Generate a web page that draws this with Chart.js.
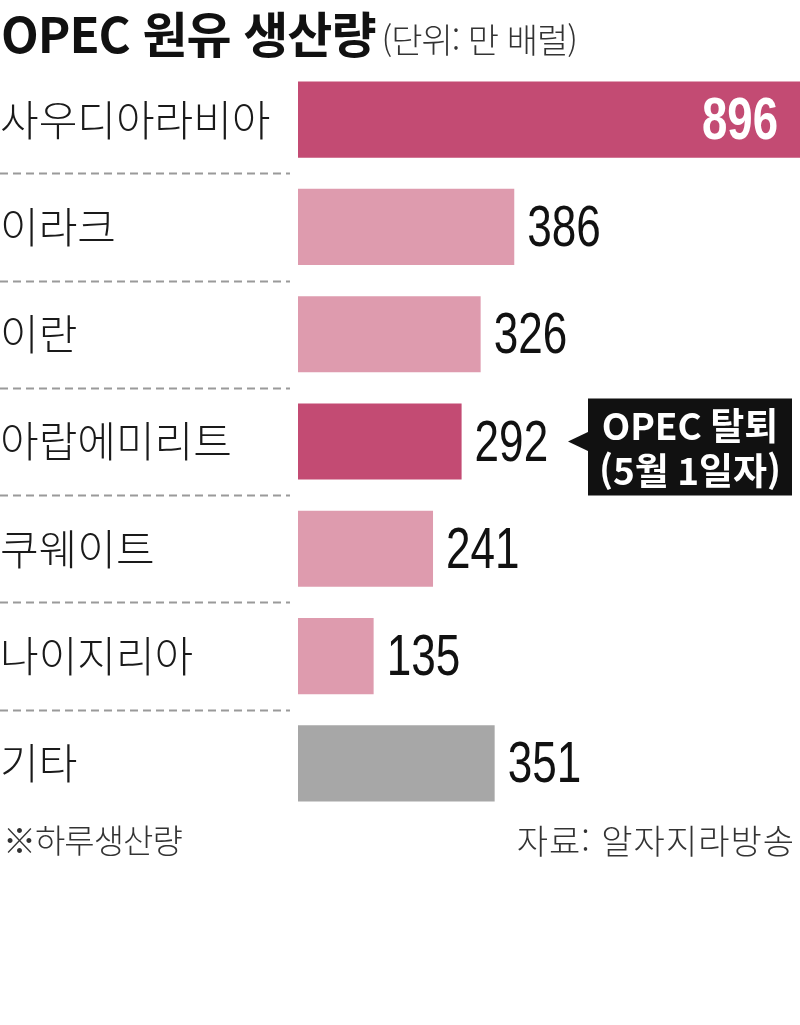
<!DOCTYPE html>
<html lang="ko">
<head>
<meta charset="utf-8">
<script src="https://cdn.jsdelivr.net/npm/chart.js@4"></script>
<style>
  html, body { margin: 0; padding: 0; background: #fff; }
  #wrap { position: relative; width: 800px; height: 1025px; overflow: hidden; }
  #chart { position: absolute; left: 0; top: 0; }
  .title { position: absolute; left: 1px; top: -4px; white-space: nowrap;
           font-family: "Noto Sans CJK KR", sans-serif; color: #111; }
  .title b { font-size: 49px; font-weight: 700; letter-spacing: -1px; }
  .title span { font-size: 34px; font-weight: 300; color: #333; margin-left: 6px; letter-spacing: -1px; }
  .foot { position: absolute; top: 815px; font-family: "Noto Sans CJK KR", sans-serif;
          font-size: 33px; font-weight: 300; color: #333; white-space: nowrap; letter-spacing: -1px; }
</style>
</head>
<body>
<div id="wrap">
  <canvas id="chart" width="800" height="1025"></canvas>
  <div class="title"><b>OPEC 원유 생산량</b><span>(단위: 만 배럴)</span></div>
  <div class="foot" style="left:3px">※하루생산량</div>
  <div class="foot" style="right:5px; font-size:34px; letter-spacing:1px">자료: 알자지라방송</div>
</div>
<script>
// --- 데이터 ---
const categories = ['사우디아라비아', '이라크', '이란', '아랍에미리트', '쿠웨이트', '나이지리아', '기타'];
const production = [896, 386, 326, 292, 241, 135, 351];
const noteLines = ['OPEC 탈퇴', '(5월 1일자)'];
const noteIndex = 3; // 아랍에미리트

const DARK = '#c34b73', LIGHT = '#de9bae', GRAY = '#a7a7a7';
const barColors = [DARK, LIGHT, LIGHT, DARK, LIGHT, LIGHT, GRAY];
const numFont = '"Liberation Sans", Arial, sans-serif';
const SQUEEZE = 0.76; // 좁은 숫자체 흉내

// 가로로 눌린 글자 그리기
function narrowText(ctx, text, x, y, align) {
    ctx.save();
    ctx.translate(x, y);
    ctx.scale(SQUEEZE, 1);
    ctx.textAlign = align;
    ctx.fillText(text, 0, 0);
    ctx.restore();
}

// 값 라벨, 점선, 말풍선
const extras = {
    id: 'extras',
    afterDatasetsDraw(chart) {
        const ctx = chart.ctx;
        const xs = chart.scales.x, ys = chart.scales.y;
        const meta = chart.getDatasetMeta(0);

        // 구분 점선 (라벨 영역만)
        ctx.save();
        ctx.strokeStyle = '#9a9a9a';
        ctx.lineWidth = 2;
        ctx.setLineDash([8, 5]);
        for (let i = 0; i < categories.length - 1; i++) {
            let y = Math.round((ys.getPixelForValue(i) + ys.getPixelForValue(i + 1)) / 2) + 0.5;
            ctx.beginPath();
            ctx.moveTo(0, y);
            ctx.lineTo(xs.left - 8, y);
            ctx.stroke();
        }
        ctx.restore();

        // 값 라벨
        ctx.save();
        ctx.textBaseline = 'middle';
        meta.data.forEach((bar, i) => {
            let v = production[i];
            if (i === 0) {
                ctx.fillStyle = '#fff';
                ctx.font = 'bold 60px ' + numFont;
                narrowText(ctx, v, bar.x - 22, bar.y + 3, 'right');
            } else {
                ctx.fillStyle = '#111';
                ctx.font = '58px ' + numFont;
                narrowText(ctx, v, bar.x + 13, bar.y + 3, 'left');
            }
        });
        ctx.restore();

        // 말풍선
        let cy = ys.getPixelForValue(noteIndex);
        let bx = 588, bw = 204, bh = 97, by = cy - 43;
        ctx.save();
        ctx.fillStyle = '#111';
        ctx.fillRect(bx, by, bw, bh);
        ctx.beginPath();
        ctx.moveTo(bx + 1, cy - 10);
        ctx.lineTo(568, cy);
        ctx.lineTo(bx + 1, cy + 10);
        ctx.closePath();
        ctx.fill();
        ctx.fillStyle = '#fff';
        ctx.textAlign = 'center';
        ctx.textBaseline = 'middle';
        ctx.font = 'bold 37px "Noto Sans CJK KR", sans-serif';
        ctx.fillText(noteLines[0], bx + bw / 2, by + 27);
        ctx.fillText(noteLines[1], bx + bw / 2, by + 72);
        ctx.restore();
    }
};

new Chart(document.getElementById('chart'), {
    type: 'bar',
    data: {
        labels: categories,
        datasets: [{
            data: production,
            backgroundColor: barColors,
            borderWidth: 0,
            barPercentage: 0.71,
            categoryPercentage: 1
        }]
    },
    options: {
        indexAxis: 'y',
        responsive: false,
        animation: false,
        layout: { padding: { top: 66, bottom: 208, left: 0, right: 0 } },
        plugins: { legend: { display: false }, tooltip: { enabled: false } },
        scales: {
            x: { display: false, min: 0, max: 896 },
            y: {
                grid: { display: false },
                border: { display: false },
                ticks: {
                    crossAlign: 'far',
                    padding: 0,
                    color: '#1a1a1a',
                    font: { family: '"Noto Sans CJK KR", sans-serif', size: 42, weight: 300 }
                },
                afterFit: s => { s.width = 298; }
            }
        }
    },
    plugins: [extras]
});
</script>
</body>
</html>
